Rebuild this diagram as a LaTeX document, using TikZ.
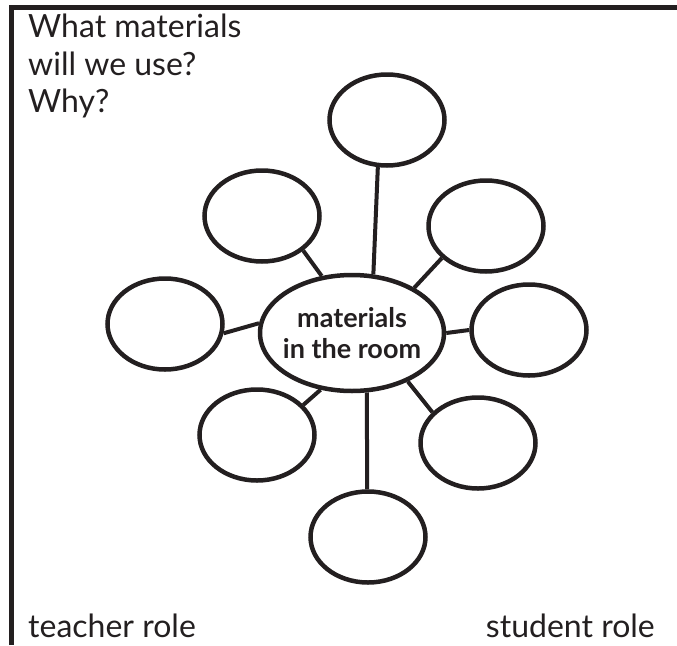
\documentclass[tikz,border=0pt]{standalone}
\usepackage{fontspec}
\setmainfont{Lato}
\usepackage{tikz}
\usetikzlibrary{shapes.geometric}
\usepackage{xcolor}
\definecolor{tinta}{HTML}{231F20}

\begin{document}
\begin{tikzpicture}[
  x=1pt, y=-1pt,
  centro/.style={ellipse, draw=tinta, line width=4.5pt, minimum width=184pt, minimum height=116pt, inner sep=0pt},
  globo/.style={ellipse, draw=tinta, line width=4.5pt, minimum width=115pt, minimum height=91pt, inner sep=0pt},
  rotulo/.style={text=tinta, inner sep=0pt, font=\fontsize{32}{37.5}\selectfont},
  lin/.style={draw=tinta, line width=4pt}
]
\useasboundingbox (0,0) rectangle (677,645);
% marco
\draw[tinta, line width=5pt, line join=miter] (11,645) -- (11,7.5) -- (677,7.5);
% textos
\node[rotulo, align=left, anchor=north west] (preg) at (28,14) {What materials\\will we use?\\Why?};
\node[rotulo, anchor=base west] (prof) at (28,637) {teacher role};
\node[rotulo, anchor=base east] (alum) at (655,637) {student role};
% centro
\node[centro, label={[text=tinta, align=center, font=\fontsize{27}{31}\selectfont\bfseries]center:materials\\in the room}] (mat) at (352,333) {};
% globos
\node[globo] (g1) at (387,120) {};
\node[globo] (g2) at (262,216) {};
\node[globo] (g3) at (486,226) {};
\node[globo] (g4) at (165,324) {};
\node[globo] (g5) at (529,330) {};
\node[globo] (g6) at (257,435) {};
\node[globo] (g7) at (478,443) {};
\node[globo] (g8) at (368,537) {};
% aristas
\draw[lin] (mat.70) -- (g1.259);
\draw[lin] (mat.118) -- (g2.320);
\draw[lin] (mat.36) -- (g3.216);
\draw[lin] (mat.174) -- (g4.351);
\draw[lin] (mat.0) -- (g5.180);
\draw[lin] (mat.241) -- (g6.33);
\draw[lin] (mat.319) -- (g7.146);
\draw[lin] (mat.284) -- (g8.91);
\end{tikzpicture}
\end{document}
